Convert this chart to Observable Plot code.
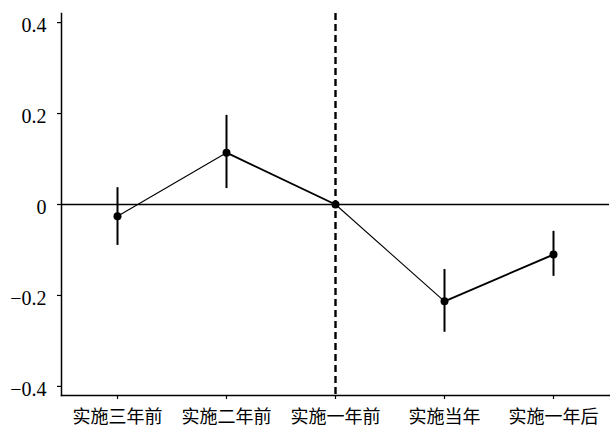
<!DOCTYPE html>
<html>
<head>
<meta charset="utf-8">
<script src="https://cdn.jsdelivr.net/npm/d3@7"></script>
<script src="https://cdn.jsdelivr.net/npm/@observablehq/plot@0.6"></script>
<style>
  html, body { margin: 0; padding: 0; background: #fff; }
</style>
</head>
<body>
<div id="chart"></div>
<script>
const categories = ["实施三年前", "实施二年前", "实施一年前", "实施当年", "实施一年后"];
const estimates = [-0.026, 0.114, 0, -0.213, -0.110];
const lower = [-0.090, 0.035, 0, -0.281, -0.158];
const upper = [0.037, 0.196, 0, -0.143, -0.059];
const yTicks = [-0.4, -0.2, 0, 0.2, 0.4];
const eventCategory = "实施一年前";

const data = categories.map((c, i) => ({cat: c, est: estimates[i], lo: lower[i], hi: upper[i]}));
const bars = data.filter(d => d.lo !== d.hi);
const segs = data.slice(0, -1).map((d, i) => ({x1: d.cat, y1: d.est, x2: data[i + 1].cat, y2: data[i + 1].est, w: i % 2 === 0 ? 1.1 : 1.9}));

const fmt = d => d === 0 ? "0" : (d < 0 ? "\u2212" : "") + Math.abs(d).toFixed(1);

const chart = Plot.plot({
  width: 610,
  height: 428,
  marginLeft: 61,
  marginRight: 1,
  marginTop: 13,
  marginBottom: 33,
  style: {background: "#fff", color: "#000"},
  x: {type: "point", domain: categories, padding: 0.5, label: null},
  y: {domain: [-0.42, 0.42], label: null},
  marks: [
    Plot.ruleY([0], {stroke: "#000", strokeWidth: 1.6}),
    Plot.ruleX([eventCategory], {stroke: "#000", strokeWidth: 2.4, strokeDasharray: "7,4"}),
    Plot.ruleX(bars, {x: "cat", y1: "lo", y2: "hi", stroke: "#000", strokeWidth: 2}),
    Plot.link(segs, {x1: "x1", y1: "y1", x2: "x2", y2: "y2", stroke: "#000", strokeWidth: "w"}),
    Plot.dot(data, {x: "cat", y: "est", r: 4, fill: "#000", stroke: "none"}),
    Plot.axisY({ticks: yTicks, tickFormat: () => "", tickSize: 4, stroke: "#000", strokeWidth: 1.2}),
    Plot.axisX({tickFormat: () => "", tickSize: 4, stroke: "#000", strokeWidth: 1.2}),
    Plot.text(yTicks, {y: d => d, text: fmt, frameAnchor: "left", dx: -15, dy: 3, textAnchor: "end",
      fontSize: 20, fontFamily: "Liberation Serif", fill: "#000"}),
    Plot.text(categories, {x: d => d, text: d => d, frameAnchor: "bottom", dy: 22, lineAnchor: "middle",
      fontSize: 18, fontFamily: "Noto Sans CJK SC", fill: "#000"}),
    Plot.frame({anchor: "left", stroke: "#000", strokeWidth: 1.5}),
    Plot.frame({anchor: "bottom", stroke: "#000", strokeWidth: 1.5})
  ]
});
document.getElementById("chart").appendChild(chart);
</script>
</body>
</html>
